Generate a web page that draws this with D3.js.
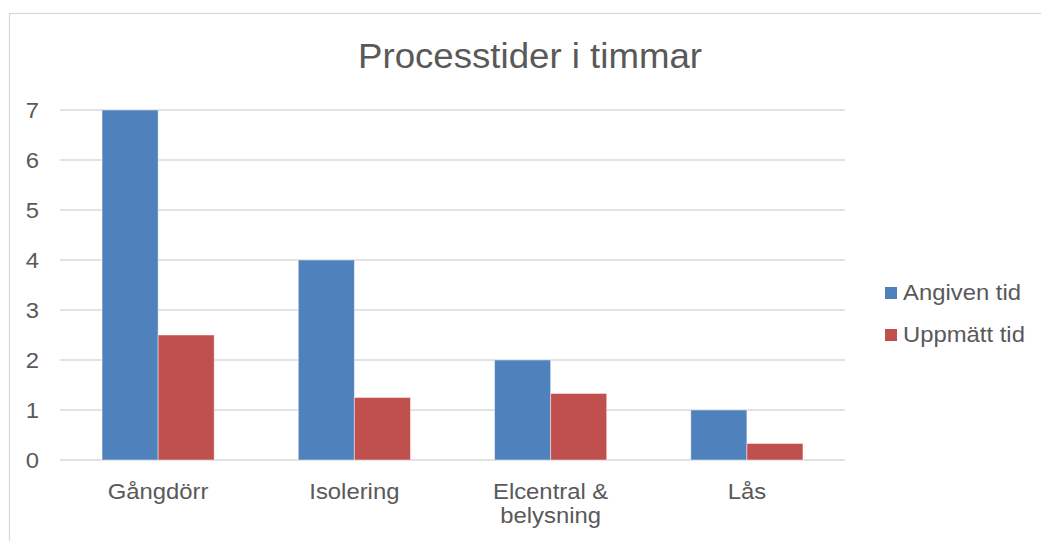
<!DOCTYPE html>
<html>
<head>
<meta charset="utf-8">
<script src="https://cdn.jsdelivr.net/npm/d3@7"></script>
<style>
  html, body { margin: 0; padding: 0; background: #fff; }
  svg { display: block; font-family: "Liberation Sans", Arial, sans-serif; }
</style>
</head>
<body>
<svg id="chart" width="1041" height="541"></svg>
<script>
// Process times in hours per task
const categories = [["Gångdörr"], ["Isolering"], ["Elcentral &", "belysning"], ["Lås"]];
const seriesNames = ["Angiven tid", "Uppmätt tid"];
const angivenTid = [7, 4, 2, 1];
const uppmattTid = [2.5, 1.25, 1.33, 0.33];
const yTicks = [0, 1, 2, 3, 4, 5, 6, 7];
const colors = ["#4F81BD", "#C0504D"];

const svg = d3.select("#chart");
const textColor = "#595959";
const gridColor = "#D9D9D9";
const labelSize = 22.5;
const stretch = 1.06; // horizontal stretch of label glyphs

// Outer chart frame
svg.append("rect")
  .attr("x", 9.5).attr("y", 13.5)
  .attr("width", 1040).attr("height", 540)
  .attr("fill", "none").attr("stroke", gridColor).attr("stroke-width", 1.3);

// Title
svg.append("text")
  .attr("x", 358).attr("y", 68)
  .attr("font-size", 35)
  .attr("fill", textColor)
  .attr("textLength", 344)
  .attr("lengthAdjust", "spacingAndGlyphs")
  .text("Processtider i timmar");

const plot = { left: 60, right: 845, top: 110, bottom: 460 };

const x0 = d3.scaleBand()
  .domain(d3.range(categories.length))
  .range([plot.left, plot.right])
  .paddingInner(0).paddingOuter(0);

const groupInset = x0.bandwidth() * 0.75 / 3.5;
const x1 = d3.scaleBand()
  .domain(d3.range(seriesNames.length))
  .range([groupInset, x0.bandwidth() - groupInset]);

const y = d3.scaleLinear().domain([0, 7]).range([plot.bottom, plot.top]);

// Horizontal gridlines
svg.append("g").selectAll("line")
  .data(yTicks)
  .join("line")
  .attr("x1", plot.left).attr("x2", plot.right)
  .attr("y1", d => y(d)).attr("y2", d => y(d))
  .attr("stroke", gridColor).attr("stroke-width", 1.4);

// Y tick labels
svg.append("g").selectAll("text")
  .data(yTicks)
  .join("text")
  .attr("transform", d => `translate(39,${y(d) + 8.3}) scale(${stretch},1)`)
  .attr("text-anchor", "end")
  .attr("font-size", labelSize)
  .attr("fill", textColor)
  .text(d3.format("d"));

// Bars
const seriesData = [angivenTid, uppmattTid];
seriesData.forEach((vals, s) => {
  svg.append("g").selectAll("rect")
    .data(vals)
    .join("rect")
    .attr("x", (d, i) => x0(i) + x1(s))
    .attr("y", d => y(d))
    .attr("width", x1.bandwidth())
    .attr("height", d => y(0) - y(d))
    .attr("fill", colors[s])
    .attr("stroke", "#ffffff")
    .attr("stroke-opacity", 0.45)
    .attr("stroke-width", 1);
});

// Category labels
const xg = svg.append("g");
categories.forEach((lines, i) => {
  lines.forEach((ln, k) => {
    xg.append("text")
      .attr("transform", `translate(${x0(i) + x0.bandwidth() / 2},${499 + k * 24}) scale(${stretch},1)`)
      .attr("text-anchor", "middle")
      .attr("font-size", labelSize)
      .attr("fill", textColor)
      .text(ln);
  });
});

// Legend
const legend = svg.append("g");
seriesNames.forEach((name, s) => {
  const base = 300 + s * 42;
  legend.append("rect")
    .attr("x", 885).attr("y", base - 13)
    .attr("width", 12).attr("height", 12)
    .attr("fill", colors[s]);
  legend.append("text")
    .attr("transform", `translate(903,${base}) scale(${stretch},1)`)
    .attr("font-size", labelSize)
    .attr("fill", textColor)
    .text(name);
});
</script>
</body>
</html>
